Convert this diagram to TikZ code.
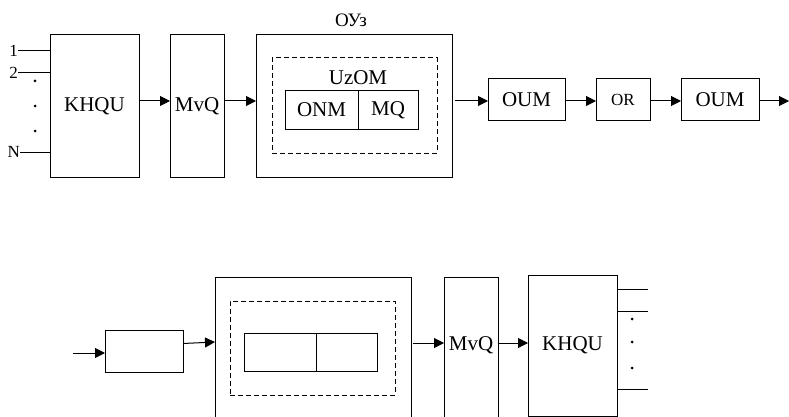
\documentclass[tikz,border=0pt]{standalone}
\usepackage{fontspec}
\setmainfont{Liberation Serif}
\usetikzlibrary{arrows.meta}
\begin{document}
\begin{tikzpicture}[x=1pt,y=-1pt,
  box/.style={draw,line width=1pt,inner sep=0pt,outer sep=0pt,font=\fontsize{21}{23}\selectfont},
  dbox/.style={draw,dash pattern=on 5pt off 3pt,line width=1pt,inner sep=0pt,outer sep=0pt},
  arr/.style={line width=1pt,-{Triangle[length=10pt,width=10pt]}},
  ln/.style={line width=1pt},
  dotc/.style={fill,circle,inner sep=0pt,minimum size=3pt},
  lbl/.style={inner sep=0pt,font=\fontsize{17}{19}\selectfont}]
\useasboundingbox (0,0) rectangle (789,417);
\clip (0,0) rectangle (789,417);
% ---------- top row ----------
\node[box,minimum width=89,minimum height=142] (khqu) at (94.5,106) {KHQU};
\node[box,minimum width=54,minimum height=142] (mvq) at (197,106) {MvQ};
\node[box,minimum width=196,minimum height=142] (ou) at (354,106) {};
\node[font=\fontsize{19}{21}\selectfont,inner sep=0pt] (outitle) at (351,20) {ОУз};
\node[dbox,minimum width=165,minimum height=95] (uz) at (354.5,105.5) {};
\node[font=\fontsize{21}{23}\selectfont,inner sep=0pt] (uzlbl) at (358,78) {UzOM};
\node[box,minimum width=73,minimum height=38] (onm) at (321.5,110) {ONM};
\node[box,minimum width=60,minimum height=38] (mq) at (388,110) {MQ};
\node[box,minimum width=77,minimum height=42] (oum1) at (526.5,100) {OUM};
\node[box,minimum width=54,minimum height=42,font=\fontsize{17}{19}\selectfont] (or) at (623,100) {OR};
\node[box,minimum width=78,minimum height=42] (oum2) at (720,100) {OUM};
\coordinate (tend) at (789,101);
% inputs
\coordinate (i1) at (18,51);
\coordinate (i2) at (18,73);
\coordinate (iN) at (20,152);
\node[lbl,anchor=east] (l1) at (i1) {1};
\node[lbl,anchor=east] (l2) at (i2) {2};
\node[lbl,anchor=east] (lN) at (iN) {N};
\draw[ln] (i1) -- (khqu.west |- i1);
\draw[ln] (i2) -- (khqu.west |- i2);
\draw[ln] (iN) -- (khqu.west |- iN);
\node[dotc] (d1) at (35,81) {};
\node[dotc] (d2) at (35,106) {};
\node[dotc] (d3) at (35,131) {};
% arrows
\draw[arr] (khqu.east |- 0,101) -- (mvq.west |- 0,101);
\draw[arr] (mvq.east |- 0,101) -- (ou.west |- 0,101);
\draw[arr] ([xshift=3pt]ou.east |- 0,101) -- (oum1.west |- 0,101);
\draw[arr] (oum1.east |- 0,101) -- (or.west |- 0,101);
\draw[arr] (or.east |- 0,101) -- (oum2.west |- 0,101);
\draw[arr] (oum2.east |- 0,101) -- (tend);
% ---------- bottom row ----------
\coordinate (bin) at (73,353);
\node[box,minimum width=78,minimum height=42] (b1) at (144,351) {};
\node[box,minimum width=196,minimum height=142] (big) at (313,348) {};
\node[dbox,minimum width=165,minimum height=94] (buz) at (312.5,348) {};
\node[box,minimum width=72,minimum height=38] (bl) at (280,352) {};
\node[box,minimum width=61,minimum height=38] (br) at (346.5,352) {};
\node[box,minimum width=54,minimum height=142] (mvq2) at (471,348) {};
\node[font=\fontsize{21}{23}\selectfont,inner sep=0pt] (mvq2t) at (471,345) {MvQ};
\node[box,minimum width=89,minimum height=141] (khqu2) at (572.5,345.5) {};
\node[font=\fontsize{21}{23}\selectfont,inner sep=0pt] (khqu2t) at (572.5,345) {KHQU};
\draw[arr] (bin) -- (b1.west |- bin);
\draw[arr] (b1.east |- 0,343.5) -- (big.west |- 0,342);
\draw[arr] ([xshift=2pt]big.east |- 0,343) -- (mvq2.west |- 0,343);
\draw[arr] (mvq2.east |- 0,343) -- (khqu2.west |- 0,343);
\coordinate (o1) at (648,289);
\coordinate (o2) at (648,311);
\coordinate (o3) at (648,389);
\draw[ln] (khqu2.east |- o1) -- (o1);
\draw[ln] (khqu2.east |- o2) -- (o2);
\draw[ln] (khqu2.east |- o3) -- (o3);
\node[dotc] (e1) at (632,319) {};
\node[dotc] (e2) at (632,342) {};
\node[dotc] (e3) at (632,368) {};
\end{tikzpicture}
\end{document}
